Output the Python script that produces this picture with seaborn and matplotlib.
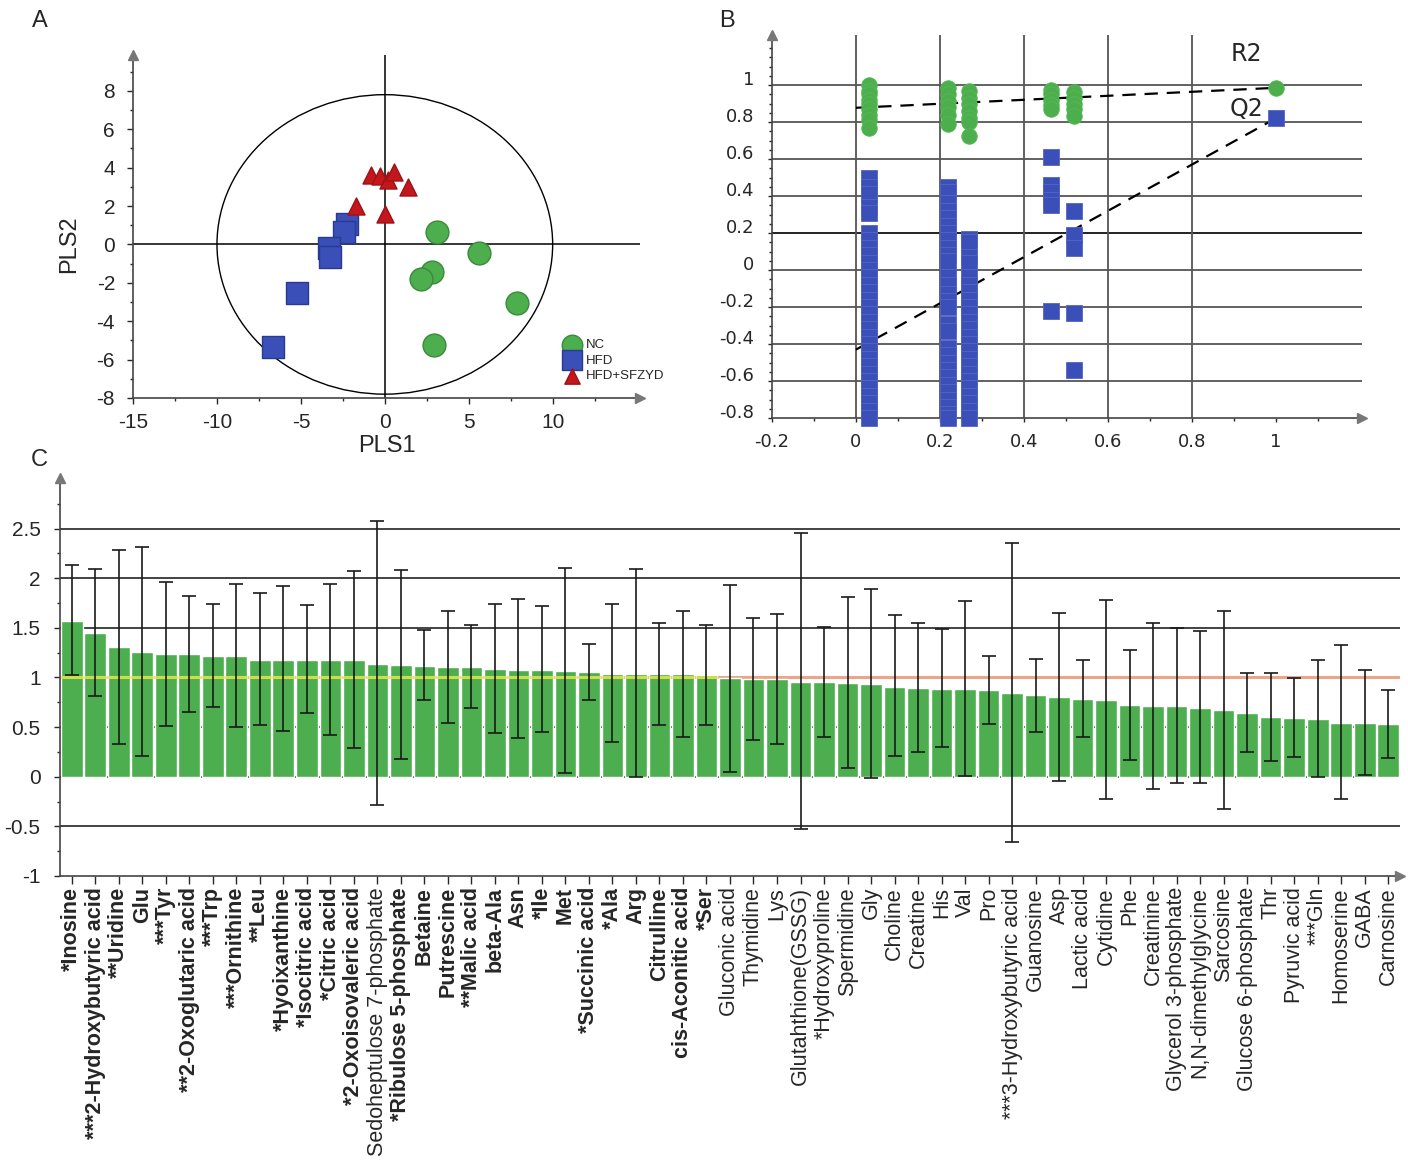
import numpy as np
import pandas as pd
import matplotlib
matplotlib.use("Agg")
import matplotlib.pyplot as plt
import seaborn as sns
from matplotlib.patches import Ellipse
from matplotlib.ticker import MultipleLocator, FuncFormatter
from matplotlib.transforms import ScaledTranslation

# ---------------- panel A: PLS-DA score plot ----------------
nc_x = [3.10, 5.63, 2.80, 2.16, 7.87, 2.96]
nc_y = [0.66, -0.47, -1.46, -1.78, -3.05, -5.26]
hfd_x = [-2.27, -2.43, -3.34, -3.26, -5.23, -6.67]
hfd_y = [1.05, 0.66, -0.17, -0.64, -2.51, -5.35]
sfz_x = [-0.85, -0.27, 0.16, 0.56, 1.41, -1.71, 0.0]
sfz_y = [3.62, 3.54, 3.36, 3.75, 3.01, 2.00, 1.57]
groups = ["NC", "HFD", "HFD+SFZYD"]
ellipse_rx, ellipse_ry = 10.0, 7.8

# ---------------- panel B: permutation test ----------------
perm_x = [0.03, 0.22, 0.27, 0.465, 0.52, 1.0]
r2_cols = [
    [1.00, 0.97, 0.95, 0.92, 0.90, 0.87, 0.84, 0.81, 0.77],
    [0.985, 0.95, 0.915, 0.88, 0.84, 0.79],
    [0.97, 0.93, 0.90, 0.86, 0.82, 0.80, 0.725],
    [0.975, 0.95, 0.92, 0.89, 0.87],
    [0.965, 0.93, 0.90, 0.87, 0.83],
    [0.985],
]
q2_cols = [
    [0.50, 0.45, 0.41, 0.34, 0.31, 0.20, 0.16, 0.12, 0.08, 0.04, 0.00, -0.04,
     -0.08, -0.12, -0.16, -0.20, -0.24, -0.28, -0.32, -0.36, -0.40, -0.44,
     -0.48, -0.52, -0.56, -0.60, -0.64, -0.68, -0.72, -0.76, -0.80],
    [0.45, 0.42, 0.36, 0.32, 0.28, 0.24, 0.20, 0.16, 0.12, 0.08, 0.05, -0.04,
     -0.08, -0.13, -0.17, -0.20, -0.29, -0.33, -0.42, -0.46, -0.50, -0.54,
     -0.58, -0.62, -0.66, -0.70, -0.74, -0.78, -0.80],
    [0.17, 0.15, 0.07, 0.04, -0.04, -0.08, -0.12, -0.16, -0.20, -0.24, -0.28,
     -0.32, -0.36, -0.40, -0.44, -0.48, -0.52, -0.56, -0.60, -0.64, -0.68,
     -0.72, -0.76, -0.80],
    [0.61, 0.46, 0.42, 0.38, 0.35, -0.22],
    [0.32, 0.19, 0.12, -0.23, -0.54],
    [0.82],
]
fit_x = [0.0, 1.0]
r2_fit = [0.877, 0.985]
q2_fit = [-0.43, 0.82]

# ---------------- panel C: VIP values ----------------
metabolites = [
    "*Inosine", "***2-Hydroxybutyric acid", "**Uridine", "Glu", "***Tyr",
    "**2-Oxoglutaric acid", "***Trp", "***Ornithine", "**Leu", "*Hyoixanthine",
    "*Isocitric acid", "*Citric acid", "*2-Oxoisovaleric acid",
    "Sedoheptulose 7-phosphate", "*Ribulose 5-phosphate", "Betaine",
    "Putrescine", "**Malic acid", "beta-Ala", "Asn", "*Ile", "Met",
    "*Succinic acid", "*Ala", "Arg", "Citrulline", "cis-Aconitic acid", "*Ser",
    "Gluconic acid", "Thymidine", "Lys", "Glutahthione(GSSG)", "*Hydroxyproline",
    "Spermidine", "Gly", "Choline", "Creatine", "His", "Val", "Pro",
    "***3-Hydroxybutyric acid", "Guanosine", "Asp", "Lactic acid", "Cytidine",
    "Phe", "Creatinine", "Glycerol 3-phosphate", "N,N-dimethylglycine",
    "Sarcosine", "Glucose 6-phosphate", "Thr", "Pyruvic acid", "***Gln",
    "Homoserine", "GABA", "Carnosine",
]
bold_labels = set(metabolites[:28]) - {"Sedoheptulose 7-phosphate"}
vip = [1.571, 1.446, 1.305, 1.255, 1.234, 1.234, 1.221, 1.221, 1.181, 1.181,
       1.177, 1.174, 1.174, 1.137, 1.127, 1.120, 1.107, 1.103, 1.083, 1.080,
       1.080, 1.066, 1.053, 1.039, 1.039, 1.039, 1.033, 1.019, 0.996, 0.986,
       0.986, 0.959, 0.952, 0.945, 0.932, 0.905, 0.891, 0.888, 0.888, 0.875,
       0.844, 0.821, 0.800, 0.787, 0.774, 0.723, 0.710, 0.710, 0.696, 0.673,
       0.646, 0.599, 0.592, 0.585, 0.545, 0.542, 0.531]
vip_hi = [2.136, 2.092, 2.284, 2.314, 1.958, 1.820, 1.739, 1.944, 1.853, 1.924,
          1.729, 1.937, 2.075, 2.573, 2.082, 1.483, 1.672, 1.524, 1.739, 1.793,
          1.719, 2.102, 1.335, 1.739, 2.096, 1.551, 1.665, 1.527, 1.934, 1.601,
          1.635, 2.455, 1.510, 1.813, 1.894, 1.625, 1.554, 1.490, 1.773, 1.214,
          2.358, 1.187, 1.652, 1.177, 1.783, 1.278, 1.547, 1.497, 1.470, 1.672,
          1.049, 1.049, 0.992, 1.181, 1.325, 1.073, 0.878]
vip_lo = [1.026, 0.814, 0.333, 0.205, 0.511, 0.649, 0.703, 0.498, 0.525, 0.461,
          0.642, 0.420, 0.286, -0.289, 0.182, 0.774, 0.542, 0.693, 0.437, 0.387,
          0.454, 0.040, 0.770, 0.346, 0.000, 0.521, 0.400, 0.521, 0.050, 0.373,
          0.333, -0.528, 0.404, 0.084, -0.017, 0.205, 0.246, 0.300, 0.007, 0.528,
          -0.659, 0.454, -0.044, 0.397, -0.229, 0.165, -0.121, -0.067, -0.064, -0.320,
          0.252, 0.161, 0.195, 0.000, -0.229, 0.013, 0.188]
vip_cut = 1.0

GREEN = "#4cae4c"
BLUE = "#3b4fb8"
RED = "#c1171d"
BAR = "#4dae4f"
ARIAL = "Liberation Sans"

sns.set_style("white")
plt.rcParams["font.family"] = [ARIAL, "DejaVu Sans"]
plt.rcParams["axes.unicode_minus"] = False

fig = plt.figure(figsize=(14.08, 11.73), dpi=100)
fmt_g = FuncFormatter(lambda v, _: f"{v:g}")


def arrow_spines(ax, color="#777777"):
    ax.plot(1, 0, ">", color=color, ms=7, transform=ax.transAxes, clip_on=False, zorder=5)
    ax.plot(0, 1, "^", color=color, ms=7, transform=ax.transAxes, clip_on=False, zorder=5)
    for s in ["top", "right"]:
        ax.spines[s].set_visible(False)
    for s in ["left", "bottom"]:
        ax.spines[s].set_color("#444444")
        ax.spines[s].set_linewidth(1.2)


# ---- A ----
axA = fig.add_axes([0.0945, 0.6607, 0.36, 0.2923])
dfA = pd.concat([
    pd.DataFrame({"PLS1": nc_x, "PLS2": nc_y, "group": "NC"}),
    pd.DataFrame({"PLS1": hfd_x, "PLS2": hfd_y, "group": "HFD"}),
    pd.DataFrame({"PLS1": sfz_x, "PLS2": sfz_y, "group": "HFD+SFZYD"}),
])
axA.add_patch(Ellipse((0, 0), 2 * ellipse_rx, 2 * ellipse_ry, fill=False,
                      ec="black", lw=1.0, zorder=1))
axA.axhline(0, color="black", lw=1.1, zorder=1)
axA.axvline(0, color="black", lw=1.1, zorder=1)
styles = {"NC": ("o", GREEN, "#3a8a3a", 270),
          "HFD": ("s", BLUE, "#2a3a90", 240),
          "HFD+SFZYD": ("^", RED, "#a01015", 150)}
for g in groups:
    m, fc, ec, s = styles[g]
    sns.scatterplot(data=dfA[dfA["group"] == g], x="PLS1", y="PLS2", marker=m,
                    color=fc, edgecolor=ec, linewidth=1, s=s, label=g, ax=axA,
                    zorder=3)
axA.set_xlim(-15, 15.2)
axA.set_ylim(-8, 9.86)
axA.set_xticks([-15, -10, -5, 0, 5, 10])
axA.set_yticks([-8, -6, -4, -2, 0, 2, 4, 6, 8])
axA.xaxis.set_minor_locator(MultipleLocator(2.5))
axA.yaxis.set_minor_locator(MultipleLocator(1))
axA.xaxis.set_major_formatter(fmt_g)
axA.tick_params(axis="both", which="major", direction="out", length=4,
                width=1, labelsize=15, bottom=True, left=True)
axA.tick_params(axis="x", which="major", pad=7)
axA.tick_params(axis="y", which="major", pad=9)
axA.tick_params(axis="both", which="minor", direction="out", length=2.5,
                width=1, bottom=True, left=True)
arrow_spines(axA)
axA.set_xlabel("PLS1", fontsize=17, labelpad=2)
axA.set_ylabel("PLS2", fontsize=17)
axA.yaxis.set_label_coords(-0.105, 0.45)
leg = axA.legend(loc="lower left", bbox_to_anchor=(0.83, 0.03), frameon=False,
                 fontsize=9.5, handletextpad=0.05, labelspacing=0.25,
                 borderaxespad=0, markerscale=0.9)

# ---- B ----
axB = fig.add_axes([0.5483, 0.6436, 0.419, 0.3265])
r2_df = pd.DataFrame([(x, y) for x, col in zip(perm_x, r2_cols) for y in col],
                     columns=["x", "y"])
q2_df = pd.DataFrame([(x, y) for x, col in zip(perm_x, q2_cols) for y in col],
                     columns=["x", "y"])
for yv in [-0.6, -0.4, -0.2, 0, 0.2, 0.4, 0.6, 0.8, 1.0]:
    axB.axhline(yv, color="#111111" if abs(yv - 0.2) < 1e-9 else "#555555",
                lw=1.3, zorder=1)
for xv in [0, 0.2, 0.4, 0.6, 0.8]:
    axB.axvline(xv, color="#555555", lw=1.3, zorder=1)
axB.plot(fit_x, r2_fit, ls=(0, (6, 4)), color="black", lw=1.6, zorder=2)
axB.plot(fit_x, q2_fit, ls=(0, (6, 4)), color="black", lw=1.6, zorder=2)
sns.scatterplot(data=q2_df, x="x", y="y", marker="s", color=BLUE,
                edgecolor="#5565c0", linewidth=0.6, s=120, ax=axB, zorder=3,
                clip_on=False)
sns.scatterplot(data=r2_df, x="x", y="y", marker="o", color=GREEN,
                edgecolor="#56b856", linewidth=0.6, s=125, ax=axB, zorder=3,
                clip_on=False)
axB.text(0.93, 1.165, "R2", fontsize=17, family="DejaVu Sans", ha="center", va="center")
axB.text(0.93, 0.87, "Q2", fontsize=17, family="DejaVu Sans", ha="center", va="center")
axB.set_xlim(-0.2, 1.205)
axB.set_ylim(-0.8, 1.27)
axB.set_xticks([-0.2, 0, 0.2, 0.4, 0.6, 0.8, 1.0])
axB.set_yticks([-0.8, -0.6, -0.4, -0.2, 0, 0.2, 0.4, 0.6, 0.8, 1.0])
axB.xaxis.set_minor_locator(MultipleLocator(0.1))
axB.yaxis.set_minor_locator(MultipleLocator(0.05))
axB.xaxis.set_major_formatter(fmt_g)
axB.yaxis.set_major_formatter(fmt_g)
axB.tick_params(axis="both", which="major", direction="out", length=3,
                width=1, labelsize=13, bottom=True, left=True)
axB.tick_params(axis="x", which="major", pad=8)
axB.tick_params(axis="y", which="major", pad=10)
axB.tick_params(axis="both", which="minor", direction="out", length=2,
                width=1, bottom=True, left=True)
lift = ScaledTranslation(0, 5 / 72, fig.dpi_scale_trans)
for lab in axB.get_yticklabels():
    lab.set_transform(lab.get_transform() + lift)
for lab in axB.get_xticklabels() + axB.get_yticklabels():
    lab.set_family("DejaVu Sans")
arrow_spines(axB)
axB.set_xlabel("")
axB.set_ylabel("")

# ---- C ----
axC = fig.add_axes([0.0426, 0.2532, 0.9517, 0.3393])
dfC = pd.DataFrame({"metabolite": metabolites, "vip": vip,
                    "lo": vip_lo, "hi": vip_hi})
for yv in [-0.5, 0, 0.5, 1.5, 2.0, 2.5]:
    axC.axhline(yv, color="#222222", lw=1.2, zorder=0.5)
sns.barplot(data=dfC, x="metabolite", y="vip", color=BAR, saturation=1,
            width=0.92, edgecolor="white", linewidth=1.0, errorbar=None,
            ax=axC, zorder=2)
axC.axhline(vip_cut, color="#eaa58a", lw=2.2, zorder=1.8)
for p in axC.patches:
    if p.get_height() >= vip_cut:
        axC.plot([p.get_x(), p.get_x() + p.get_width()], [vip_cut, vip_cut],
                 color="#cfdd48", lw=2.2, zorder=2.5, solid_capstyle="butt")
xpos = np.arange(len(metabolites))
axC.errorbar(xpos, dfC["vip"],
             yerr=[dfC["vip"] - dfC["lo"], dfC["hi"] - dfC["vip"]],
             fmt="none", ecolor="#1a1a1a", elinewidth=1.2, capsize=5,
             capthick=1.2, zorder=4)
axC.set_xlim(-0.5, len(metabolites) - 0.5)
axC.set_ylim(-1, 3.01)
axC.set_yticks([-1, -0.5, 0, 0.5, 1, 1.5, 2, 2.5])
axC.yaxis.set_minor_locator(MultipleLocator(0.25))
axC.yaxis.set_major_formatter(fmt_g)
axC.tick_params(axis="y", which="major", direction="out", length=4, width=1,
                labelsize=15, pad=10, left=True)
axC.tick_params(axis="y", which="minor", direction="out", length=2.5,
                width=1, left=True)
axC.tick_params(axis="x", which="major", direction="out", length=6, width=1,
                labelsize=15.5, pad=2, bottom=True)
axC.set_xticks(xpos)
axC.set_xticklabels(metabolites, rotation=90, va="top", ha="center")
for lab in axC.get_xticklabels():
    if lab.get_text() in bold_labels:
        lab.set_fontweight("bold")
arrow_spines(axC)
axC.set_xlabel("")
axC.set_ylabel("")

# panel letters
fig.text(0.028, 0.982, "A", fontsize=17, ha="center", va="center")
fig.text(0.516, 0.982, "B", fontsize=17, ha="center", va="center")
fig.text(0.028, 0.608, "C", fontsize=17, ha="center", va="center")

fig.savefig("out.png", dpi=100)
